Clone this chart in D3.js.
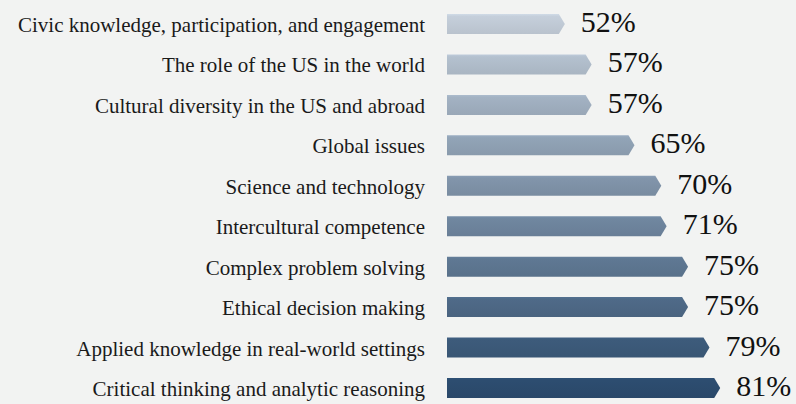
<!DOCTYPE html>
<html lang="en">
<head>
    <meta charset="UTF-8">
    <title>Bar chart</title>
    <script src="https://cdn.jsdelivr.net/npm/d3@7"></script>
    <style>
        body { margin: 0; background: #f2f3f2; }
        svg { display: block; }
    </style>
</head>
<body>
    <div id="chart"></div>
    <script>
        // data
        const categories = [
            "Civic knowledge, participation, and engagement",
            "The role of the US in the world",
            "Cultural diversity in the US and abroad",
            "Global issues",
            "Science and technology",
            "Intercultural competence",
            "Complex problem solving",
            "Ethical decision making",
            "Applied knowledge in real-world settings",
            "Critical thinking and analytic reasoning"
        ];
        const values = [52, 57, 57, 65, 70, 71, 75, 75, 79, 81];

        const width = 796, height = 404;
        const svg = d3.select("#chart").append("svg")
            .attr("width", width).attr("height", height);

        svg.append("rect").attr("width", width).attr("height", height).attr("fill", "#f2f3f2");

        // scales
        const x = d3.scaleLinear().domain([30, 100]).range([447, 822]);
        const y = d3.scalePoint().domain(categories).range([24, 388]);
        const barH = 20, tip = 6;
        const color = d3.scaleLinear().domain([0, categories.length - 1])
            .range(["#bec8d3", "#2b4a6c"]).interpolate(d3.interpolateRgb);

        // gradient per bar (slightly lighter on top)
        const defs = svg.append("defs");
        categories.forEach((c, i) => {
            const base = d3.color(color(i));
            const g = defs.append("linearGradient").attr("id", "g" + i)
                .attr("x1", 0).attr("y1", 0).attr("x2", 0).attr("y2", 1);
            g.append("stop").attr("offset", "0%").attr("stop-color", base.brighter(0.25));
            g.append("stop").attr("offset", "12%").attr("stop-color", base.brighter(0.1));
            g.append("stop").attr("offset", "100%").attr("stop-color", base.darker(0.08));
        });

        const rows = svg.selectAll("g.row").data(categories).enter().append("g")
            .attr("class", "row");

        rows.append("path")
            .attr("fill", (d, i) => "url(#g" + i + ")")
            .attr("d", (d, i) => {
                const x0 = x(30), x1 = x(values[i]), cy = y(d);
                return `M${x0},${cy - barH / 2}H${x1 - tip}L${x1},${cy}L${x1 - tip},${cy + barH / 2}H${x0}Z`;
            });

        rows.append("text")
            .attr("x", 425)
            .attr("y", d => y(d) + 8)
            .attr("text-anchor", "end")
            .attr("font-family", "'Liberation Serif', serif")
            .attr("font-size", "21px")
            .attr("fill", "#1a1a1a")
            .text(d => d);

        rows.append("text")
            .attr("x", (d, i) => x(values[i]) + 16)
            .attr("y", d => y(d) + 8)
            .attr("font-family", "'Liberation Serif', serif")
            .attr("font-size", "30px")
            .attr("fill", "#111")
            .text((d, i) => values[i] + "%");
    </script>
</body>
</html>
